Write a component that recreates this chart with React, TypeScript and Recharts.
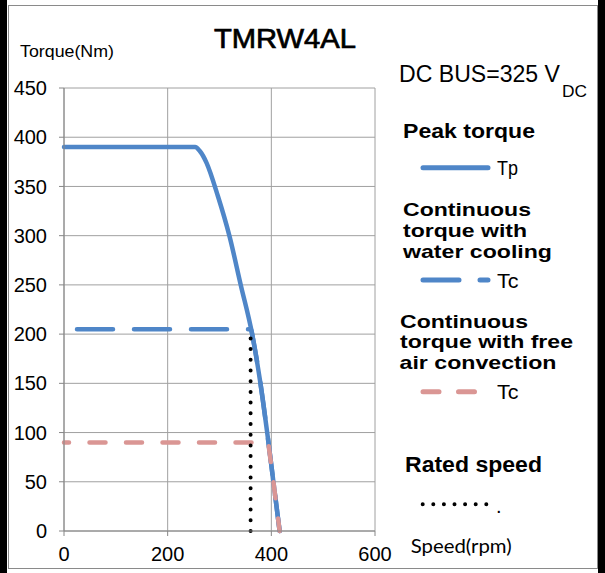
import React from 'react';
import { LineChart, Line, XAxis, YAxis, CartesianGrid } from 'recharts';

// axis ticks
const speedTicks = [0, 200, 400, 600];
const torqueTicks = [0, 50, 100, 150, 200, 250, 300, 350, 400, 450];

// peak torque Tp (rpm / Nm)
const peakSpeed = [0, 253, 262, 275, 297, 319, 341, 363, 379, 392, 404, 416];
const peakTorque = [390, 390, 386, 374, 340, 300, 250, 200, 150, 100, 50, 0];

// continuous torque, water cooling
const waterSpeed = [0, 361, 363, 379, 392, 404, 416];
const waterTorque = [205, 205, 200, 150, 100, 50, 0];

// continuous torque, free air convection
const airSpeed = [0, 394, 404, 416];
const airTorque = [90, 90, 50, 0];

// rated speed marker
const ratedSpeed = [360, 360];
const ratedTorque = [0, 205];

const zip = (s: number[], t: number[]) => s.map((v, i) => ({ speed: v, torque: t[i] }));

const BLUE = '#4F86C8';
const PINK = '#DA9694';
const GRID = '#A0A0A0';
const ARIAL = '"Liberation Sans", Arial, sans-serif';

const Overlay: React.FC = () => (
    <svg width={605} height={573} style={{ position: 'absolute', left: 0, top: 0, pointerEvents: 'none' }}>
        <g fontFamily={ARIAL} fill="#000">
            <text x={214} y={48.3} fontSize={27} stroke="#000" strokeWidth={0.7} textLength={142} lengthAdjust="spacingAndGlyphs">TMRW4AL</text>
            <text x={20} y={57} fontSize={17} textLength={94} lengthAdjust="spacingAndGlyphs">Torque(Nm)</text>
            <text x={399} y={81.7} fontSize={23} textLength={161} lengthAdjust="spacingAndGlyphs">DC BUS=325 V</text>
            <text x={562} y={96.7} fontSize={16} textLength={25} lengthAdjust="spacingAndGlyphs">DC</text>

            {/* legend */}
            <g fontWeight="bold" fontSize={18.5}>
                <text x={403} y={137.7} fontSize={21} textLength={132} lengthAdjust="spacingAndGlyphs">Peak torque</text>
                <text x={403} y={216} textLength={128} lengthAdjust="spacingAndGlyphs">Continuous</text>
                <text x={403} y={236.8} textLength={124} lengthAdjust="spacingAndGlyphs">torque with</text>
                <text x={403} y={257.6} textLength={149} lengthAdjust="spacingAndGlyphs">water cooling</text>
                <text x={400} y={327.5} textLength={128} lengthAdjust="spacingAndGlyphs">Continuous</text>
                <text x={400} y={348.3} textLength={173} lengthAdjust="spacingAndGlyphs">torque with free</text>
                <text x={399.5} y={369.1} textLength={157} lengthAdjust="spacingAndGlyphs">air convection</text>
                <text x={405} y={471.7} fontSize={22} textLength={137} lengthAdjust="spacingAndGlyphs">Rated speed</text>
            </g>
            <g fontSize={20}>
                <text x={497} y={175} textLength={21} lengthAdjust="spacingAndGlyphs">Tp</text>
                <text x={497} y={287.5} textLength={21.5} lengthAdjust="spacingAndGlyphs">Tc</text>
                <text x={497} y={399} textLength={21.5} lengthAdjust="spacingAndGlyphs">Tc</text>
                <text x={496} y={513.3}>.</text>
            </g>
            <text x={410.7} y={553.3} fontSize={20} fontFamily="Lato, 'Open Sans', sans-serif" textLength={101} lengthAdjust="spacingAndGlyphs">Speed(rpm)</text>
        </g>
        <line x1={423} y1={167.7} x2={488} y2={167.7} stroke={BLUE} strokeWidth={5} strokeLinecap="round" />
        <line x1={423} y1={280} x2={488} y2={280} stroke={BLUE} strokeWidth={5} strokeLinecap="round" strokeDasharray="36 21" />
        <line x1={423} y1={391.7} x2={474.5} y2={391.7} stroke={PINK} strokeWidth={5} strokeLinecap="round" strokeDasharray="16 19.5" />
        <line x1={422.7} y1={504.3} x2={486.5} y2={504.3} stroke="#000" strokeWidth={4} strokeLinecap="round" strokeDasharray="0 10.6" />
    </svg>
);

const App: React.FC = () => {
    return (
        <div style={{ position: 'absolute', left: 0, top: 0, width: 605, height: 573, background: '#fff', overflow: 'hidden' }}>
            {/* black side bars */}
            <div style={{ position: 'absolute', left: 0, top: 0, width: 7, height: 573, background: '#000' }} />
            <div style={{ position: 'absolute', left: 598, top: 0, width: 7, height: 573, background: '#000' }} />
            {/* chart frame */}
            <div style={{ position: 'absolute', left: 8, top: 5, width: 588, height: 562, border: '1px solid #8a8a8a', background: '#fff' }} />

            <div style={{ position: 'absolute', left: 0, top: 0 }}>
                <LineChart width={605} height={573} margin={{ top: 88, right: 230, bottom: 0, left: 0 }}>
                    <CartesianGrid stroke={GRID} strokeWidth={1} />
                    <XAxis
                        type="number"
                        dataKey="speed"
                        domain={[0, 600]}
                        ticks={speedTicks}
                        height={42}
                        stroke="#868686"
                        tickSize={5}
                        tickMargin={11}
                        tick={{ fill: '#000', fontSize: 20, fontFamily: ARIAL }}
                        interval={0}
                    />
                    <YAxis
                        type="number"
                        dataKey="torque"
                        domain={[0, 450]}
                        ticks={torqueTicks}
                        width={64}
                        stroke="#868686"
                        tickSize={5}
                        tickMargin={12}
                        tick={{ fill: '#000', fontSize: 20, fontFamily: ARIAL }}
                        interval={0}
                    />
                    <Line
                        data={zip(peakSpeed, peakTorque)}
                        dataKey="torque"
                        type="monotone"
                        stroke={BLUE}
                        strokeWidth={4.5}
                        strokeLinecap="round"
                        dot={false}
                        activeDot={false}
                        isAnimationActive={false}
                    />
                    <Line
                        data={zip(waterSpeed, waterTorque)}
                        dataKey="torque"
                        type="monotone"
                        stroke={BLUE}
                        strokeWidth={4.5}
                        strokeLinecap="round"
                        strokeDasharray="36 21"
                        strokeDashoffset={44}
                        dot={false}
                        activeDot={false}
                        isAnimationActive={false}
                    />
                    <Line
                        data={zip(airSpeed, airTorque)}
                        dataKey="torque"
                        type="linear"
                        stroke={PINK}
                        strokeWidth={4.5}
                        strokeLinecap="round"
                        strokeDasharray="16 20.5"
                        strokeDashoffset={11}
                        dot={false}
                        activeDot={false}
                        isAnimationActive={false}
                    />
                    <Line
                        data={zip(ratedSpeed, ratedTorque)}
                        dataKey="torque"
                        type="linear"
                        stroke="#000"
                        strokeWidth={4}
                        strokeLinecap="round"
                        strokeDasharray="0 10.7"
                        dot={false}
                        activeDot={false}
                        isAnimationActive={false}
                    />
                </LineChart>
            </div>
            <Overlay />
        </div>
    );
};

export default App;
